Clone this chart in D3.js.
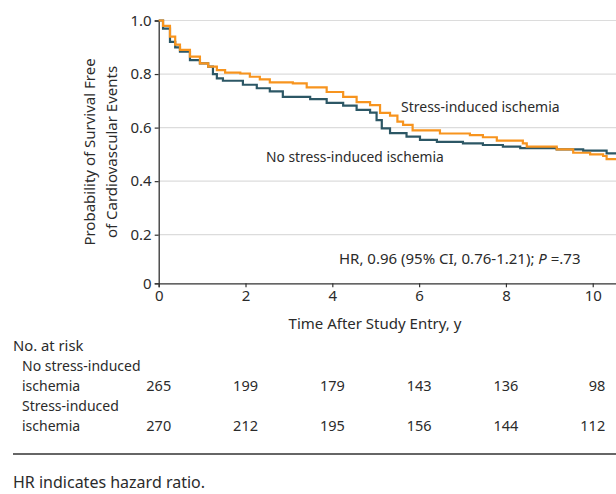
<!DOCTYPE html>
<html>
<head>
<meta charset="utf-8">
<script src="https://cdn.jsdelivr.net/npm/d3@7"></script>
<style>
  body { margin: 0; background: #fff; }
  svg text { font-family: "Noto Sans", "Open Sans", sans-serif; fill: #2b2b2b; }
</style>
</head>
<body>
<div id="chart"></div>
<script>
// Kaplan-Meier steps: [time in years, survival]
var noIschemia = [
  [0, 1.0], [0.1, 0.97], [0.26, 0.92], [0.38, 0.9], [0.49, 0.884], [0.72, 0.852],
  [0.95, 0.84], [1.14, 0.828], [1.25, 0.8], [1.34, 0.784], [1.48, 0.775], [1.94, 0.76],
  [2.26, 0.747], [2.56, 0.735], [2.86, 0.715], [3.49, 0.706], [3.87, 0.692], [4.25, 0.682],
  [4.56, 0.666], [4.87, 0.656], [5.02, 0.628], [5.14, 0.597], [5.33, 0.579], [5.71, 0.566],
  [6.02, 0.554], [6.41, 0.547], [7.01, 0.541], [7.47, 0.535], [7.93, 0.529], [8.33, 0.523],
  [9.17, 0.519], [9.78, 0.514], [10.32, 0.504], [10.6, 0.504]
];
var stressIschemia = [
  [0, 1.0], [0.1, 0.98], [0.26, 0.94], [0.38, 0.91], [0.49, 0.89], [0.72, 0.865],
  [0.95, 0.84], [1.14, 0.828], [1.34, 0.815], [1.53, 0.805], [1.88, 0.802], [2.1, 0.79],
  [2.33, 0.78], [2.56, 0.769], [3.09, 0.765], [3.41, 0.75], [3.87, 0.733], [4.25, 0.715],
  [4.56, 0.695], [4.87, 0.684], [5.1, 0.655], [5.33, 0.645], [5.5, 0.622], [5.63, 0.61],
  [5.85, 0.59], [6.48, 0.578], [7.17, 0.572], [7.47, 0.564], [7.79, 0.551], [8.39, 0.541],
  [8.48, 0.529], [9.17, 0.519], [9.55, 0.506], [9.94, 0.5], [10.24, 0.494], [10.32, 0.482],
  [10.6, 0.482]
];
var xTicks = [0, 2, 4, 6, 8, 10];
var yTicks = [0, 0.2, 0.4, 0.6, 0.8, 1.0];
var riskNo = [265, 199, 179, 143, 136, 98];
var riskStress = [270, 212, 195, 156, 144, 112];

var width = 616, height = 494;
var svg = d3.select("#chart").append("svg")
  .attr("width", width).attr("height", height);

var x = d3.scaleLinear().domain([0, 10.55]).range([158.7, 616.6]);
// the printed axis squeezes the 0-0.2 band a little
var y = d3.scaleLinear().domain([0, 0.2, 1.0]).range([283.3, 234.7, 20.5]);

// grid
svg.append("g").selectAll("line")
  .data(yTicks.filter(function(d){ return d > 0; }))
  .enter().append("line")
  .attr("x1", x(0)).attr("x2", width)
  .attr("y1", function(d){ return y(d); })
  .attr("y2", function(d){ return y(d); })
  .attr("stroke", "#dcdcdc").attr("stroke-width", 1.2);

// axes
var xAxis = svg.append("g")
  .attr("transform", "translate(0," + y(0) + ")")
  .call(d3.axisBottom(x).tickValues(xTicks).tickSizeOuter(0).tickSize(4).tickPadding(3));
var yAxis = svg.append("g")
  .attr("transform", "translate(" + x(0) + ",0)")
  .call(d3.axisLeft(y).tickValues(yTicks).tickSizeOuter(0).tickSize(4).tickPadding(3)
    .tickFormat(function(d){ return d === 0 ? "0" : d.toFixed(1); }));
[xAxis, yAxis].forEach(function(g){
  g.attr("font-size", 15).attr("font-family", null);
  g.select(".domain").attr("stroke", "#333").attr("stroke-width", 1.3);
  g.selectAll(".tick line").attr("stroke", "#333").attr("stroke-width", 1.2);
  g.selectAll(".tick text").attr("font-size", 15).style("font-size", "15px").attr("fill", "#2b2b2b");
});

// curves
var line = d3.line()
  .x(function(d){ return x(d[0]); })
  .y(function(d){ return y(d[1]); })
  .curve(d3.curveStepAfter);
svg.append("path").datum(noIschemia)
  .attr("d", line).attr("fill", "none")
  .attr("stroke", "#2c5765").attr("stroke-width", 2.2);
svg.append("path").datum(stressIschemia)
  .attr("d", line).attr("fill", "none")
  .attr("stroke", "#f7941e").attr("stroke-width", 2.2);

// axis titles
svg.append("text").attr("x", 375).attr("y", 329)
  .attr("text-anchor", "middle").style("font-size", "15px")
  .text("Time After Study Entry, y");
var yt = svg.append("text").attr("transform", "translate(95,152) rotate(-90)")
  .attr("text-anchor", "middle").style("font-size", "15px");
yt.append("tspan").attr("x", 0).attr("y", 0).text("Probability of Survival Free");
yt.append("tspan").attr("x", 0).attr("y", 21.5).text("of Cardiovascular Events");

// annotations
svg.append("text").attr("x", 401).attr("y", 112).style("font-size", "14px")
  .text("Stress-induced ischemia");
svg.append("text").attr("x", 266).attr("y", 162).style("font-size", "13.8px")
  .text("No stress-induced ischemia");
var hr = svg.append("text").attr("x", 339).attr("y", 264).style("font-size", "15px");
hr.append("tspan").text("HR, 0.96 (95% CI, 0.76-1.21); ");
hr.append("tspan").style("font-style", "italic").text("P");
hr.append("tspan").text(" =.73");

// number at risk table
svg.append("text").attr("x", 13).attr("y", 351).style("font-size", "14.8px").text("No. at risk");
var rows = [
  { lines: ["No stress-induced", "ischemia"], values: riskNo, y: 371 },
  { lines: ["Stress-induced", "ischemia"], values: riskStress, y: 411 }
];
rows.forEach(function(r){
  r.lines.forEach(function(t, i){
    svg.append("text").attr("x", 22).attr("y", r.y + i * 19.5)
      .style("font-size", "14px").text(t);
  });
  svg.append("g").selectAll("text").data(r.values).enter().append("text")
    .attr("x", function(d, i){ return x(xTicks[i]) + 12.5; })
    .attr("y", r.y + 19.5)
    .attr("text-anchor", "end").style("font-size", "14.5px")
    .text(function(d){ return d; });
});

svg.append("line").attr("x1", 13).attr("x2", width)
  .attr("y1", 454).attr("y2", 454)
  .attr("stroke", "#333").attr("stroke-width", 1.5);
svg.append("text").attr("x", 13).attr("y", 488).style("font-size", "16px")
  .text("HR indicates hazard ratio.");
</script>
</body>
</html>
